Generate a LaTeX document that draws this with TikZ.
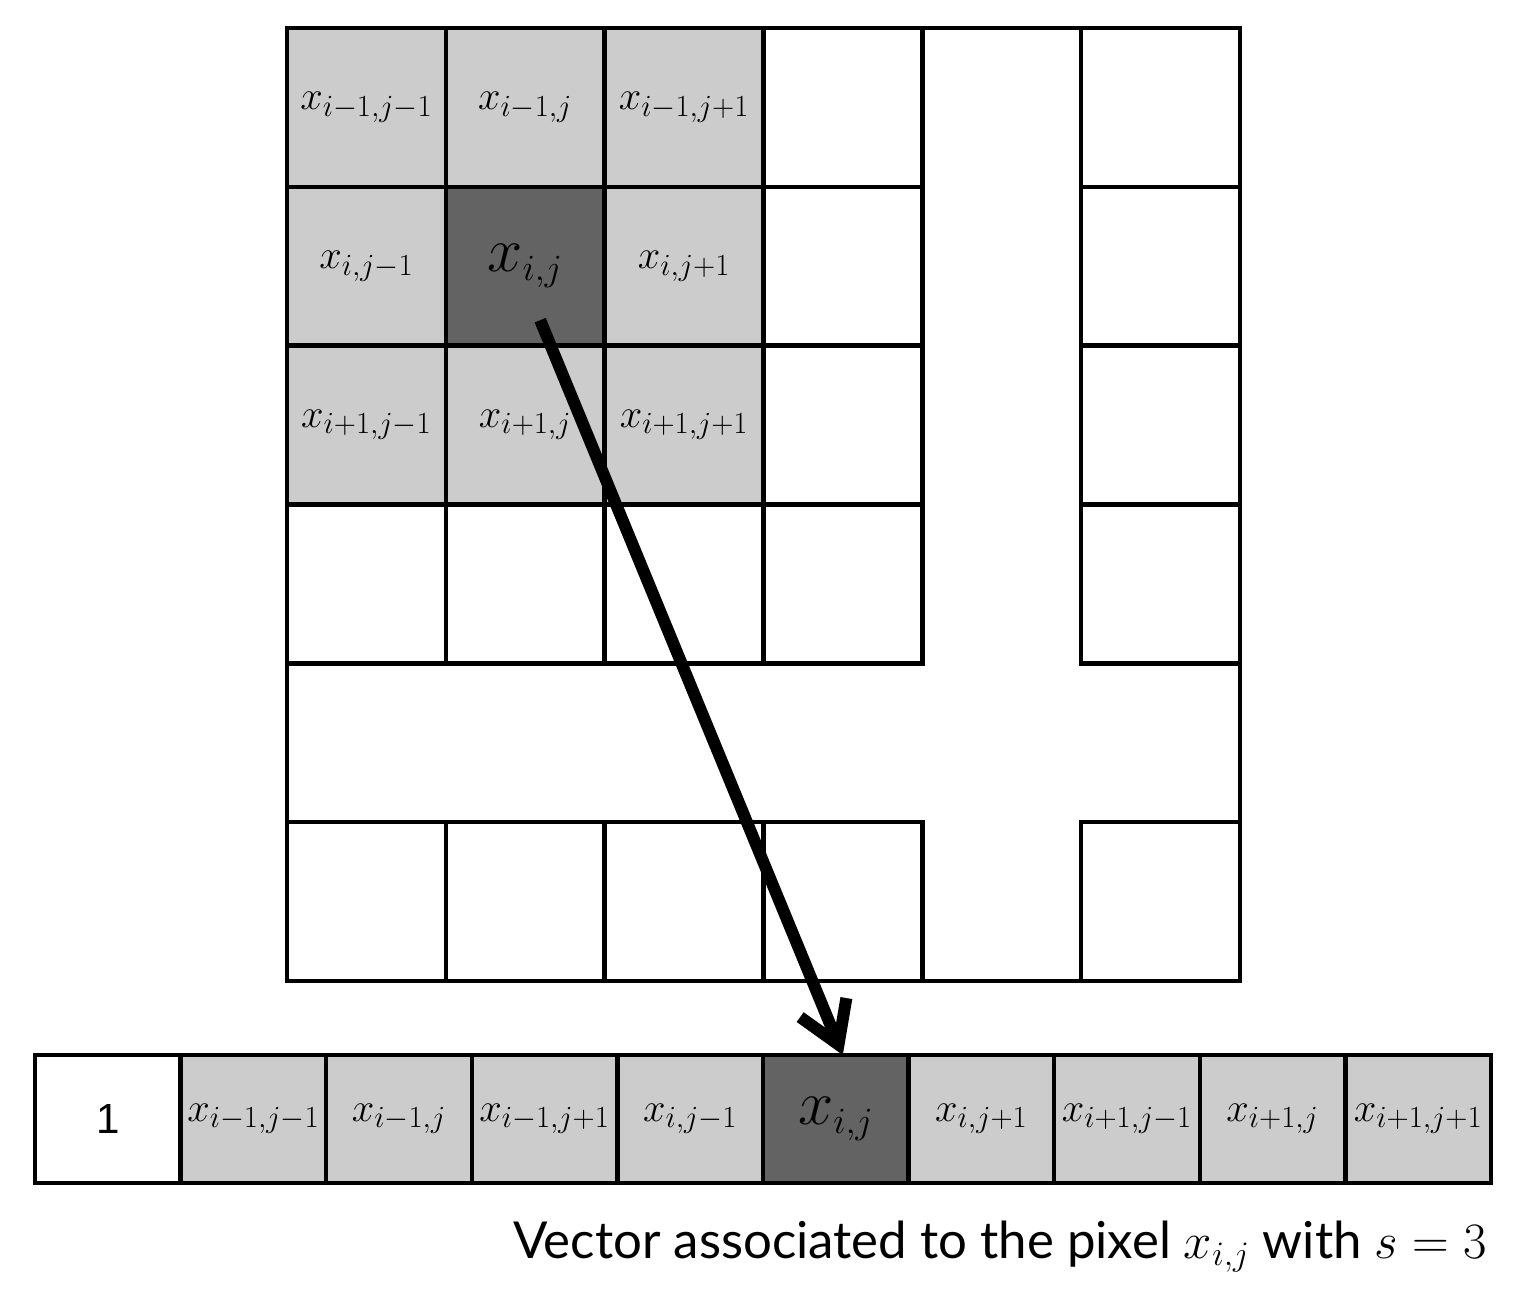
\RequirePackage{fix-cm}
\documentclass[tikz,border=0pt]{standalone}
\usepackage[no-math]{fontspec}
\setmainfont{Lato}
\newfontfamily\arialfont{Liberation Sans}
\usetikzlibrary{arrows.meta}
\DeclareMathSizes{23}{23}{17.5}{12}
\DeclareMathSizes{36}{36}{21}{15}
\DeclareMathSizes{29}{29}{19.5}{14}
\definecolor{lightg}{HTML}{CCCCCC}
\definecolor{darkg}{HTML}{636363}
\begin{document}
\begin{tikzpicture}[x=0.02cm,y=-0.02cm,
  gcell/.style={draw,line width=0.09cm,minimum width=3.1767cm,minimum height=3.1767cm,inner sep=0pt,outer sep=0pt},
  vcell/.style={draw,line width=0.09cm,minimum width=2.912cm,minimum height=2.56cm,inner sep=0pt,outer sep=0pt},
  lg/.style={fill=lightg}, dk/.style={fill=darkg},
  lab/.style={font=\fontsize{23}{27}\selectfont},
  biglab/.style={font=\fontsize{36}{40}\selectfont},
  frame/.style={line width=0.09cm}]
\useasboundingbox (0,0) rectangle (1525,1299);
% grid: row 1
\node[gcell,lg,lab] (g11) at (366.4,107.4) {$x_{i-1,j-1}$};
\node[gcell,lg,lab] (g12) at (525.2,107.4) {$x_{i-1,j}$};
\node[gcell,lg,lab] (g13) at (684.1,107.4) {$x_{i-1,j+1}$};
% row 2
\node[gcell,lg,lab] (g21) at (366.4,266.2) {$x_{i,j-1}$};
\node[gcell,dk,biglab] (g22) at (525.2,266.2) {$x_{i,j}$};
\node[gcell,lg,lab] (g23) at (684.1,266.2) {$x_{i,j+1}$};
% row 3
\node[gcell,lg,lab] (g31) at (366.4,425.1) {$x_{i+1,j-1}$};
\node[gcell,lg,lab] (g32) at (525.2,425.1) {$x_{i+1,j}$};
\node[gcell,lg,lab] (g33) at (684.1,425.1) {$x_{i+1,j+1}$};
% white cells
\foreach \r/\y in {1/107.4,2/266.2,3/425.1}
  \foreach \c/\x in {4/842.9,6/1160.6}
    \node[gcell] (g\r\c) at (\x,\y) {};
\foreach \r/\y in {4/583.9,6/901.6}
  \foreach \c/\x in {1/366.4,2/525.2,3/684.1,4/842.9,6/1160.6}
    \node[gcell] (g\r\c) at (\x,\y) {};
\draw[frame] (287,28) rectangle (1240,981);
% vector
\node[vcell,font=\arialfont\fontsize{24}{28}\selectfont] (v1) at (107.8,1119) {1};
\node[vcell,lg,lab] (v2) at (253.4,1119) {$x_{i-1,j-1}$};
\node[vcell,lg,lab] (v3) at (399,1119) {$x_{i-1,j}$};
\node[vcell,lg,lab] (v4) at (544.6,1119) {$x_{i-1,j+1}$};
\node[vcell,lg,lab] (v5) at (690.2,1119) {$x_{i,j-1}$};
\node[vcell,dk,biglab] (v6) at (835.8,1119) {$x_{i,j}$};
\node[vcell,lg,lab] (v7) at (981.4,1119) {$x_{i,j+1}$};
\node[vcell,lg,lab] (v8) at (1127,1119) {$x_{i+1,j-1}$};
\node[vcell,lg,lab] (v9) at (1272.6,1119) {$x_{i+1,j}$};
\node[vcell,lg,lab] (v10) at (1418.2,1119) {$x_{i+1,j+1}$};
% caption
\node[anchor=base east,inner sep=0pt,font=\fontsize{29}{35}\selectfont] (cap) at (1487,1258) {Vector associated to the pixel $x_{i,j}$ with $s=3$};
% arrow
\coordinate (astart) at ([xshift=0.3cm,yshift=-1.08cm]g22.center);
\draw[line width=0.24cm,-{Straight Barb[length=0.8cm,width=1cm]}] (astart) -- ([xshift=0.14cm]v6.north);
\end{tikzpicture}
\end{document}
